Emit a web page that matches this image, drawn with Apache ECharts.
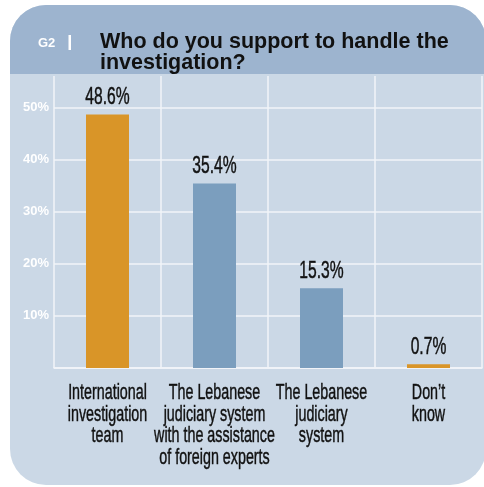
<!DOCTYPE html>
<html><head><meta charset="utf-8">
<script src="https://cdn.jsdelivr.net/npm/echarts@6/dist/echarts.min.js"></script>
<style>html,body{margin:0;padding:0;background:#fff}#c{width:484px;height:487px}</style>
</head><body><div id="c"></div>
<script>
var categories = [
  "International\ninvestigation\nteam",
  "The Lebanese\njudiciary system\nwith the assistance\nof foreign experts",
  "The Lebanese\njudiciary\nsystem",
  "Don\u2019t\nknow"
];
var values = [48.6, 35.4, 15.3, 0.7];
var barColors = ["#d99528", "#7b9ebe", "#7b9ebe", "#d99528"];
var titleText = "Who do you support to handle the\ninvestigation?";
var tagText = "G2";

var SANS = '"Liberation Sans", Arial, sans-serif';
var chart = echarts.init(document.getElementById('c'), null, {renderer: 'canvas'});
chart.setOption({
  animation: false,
  backgroundColor: '#ffffff',
  graphic: [
    {type: 'rect', z: -10, shape: {x: 10, y: 5, width: 476, height: 480, r: 36}, style: {fill: '#cbd8e6'}},
    {type: 'rect', z: -9, shape: {x: 10, y: 5, width: 476, height: 69, r: [36, 36, 0, 0]}, style: {fill: '#9db4cf'}},
    {type: 'text', z: 5, left: 38, top: 37, style: {text: tagText, fill: '#ffffff', font: 'bold 13px ' + SANS}},
    {type: 'rect', z: 5, shape: {x: 68.5, y: 35, width: 2.5, height: 15}, style: {fill: '#ffffff'}},
    {type: 'text', z: 5, left: 100, top: 31, style: {text: titleText, fill: '#111111', font: 'bold 21.5px ' + SANS, lineHeight: 21}}
  ],
  grid: {left: 54, right: 2, top: 76, bottom: 119, containLabel: false},
  xAxis: {
    type: 'category',
    data: categories,
    axisLine: {show: true, lineStyle: {color: '#f2f5f9', width: 1.5}},
    axisTick: {show: false, interval: 0},
    splitLine: {show: true, interval: 0, lineStyle: {color: '#f2f5f9', width: 1.5}},
    axisLabel: {show: false, interval: 0}
  },
  yAxis: {
    type: 'value',
    min: 0, max: 56, interval: 10,
    axisLine: {show: false},
    axisTick: {show: false},
    splitLine: {show: true, showMaxLine: false, lineStyle: {color: '#f2f5f9', width: 1.5}},
    axisLabel: {showMaxLabel: false, showMinLabel: false, margin: 5, color: '#ffffff', fontWeight: 'bold', fontSize: 13, fontFamily: SANS, formatter: function (v) { return v + '%'; }}
  },
  series: [{
    type: 'bar',
    barWidth: 43,
    data: values.map(function (v, i) { return {value: v, itemStyle: {color: barColors[i]}}; })
  }, {
    type: 'custom',
    clip: false,
    z: 10,
    data: values.map(function (v, i) { return [i, v]; }),
    renderItem: function (params, api) {
      var i = api.value(0), v = api.value(1);
      var top = api.coord([i, v]);
      var base = api.coord([i, 0]);
      return {type: 'group', children: [
        {type: 'text', x: top[0], y: top[1] - 5, scaleX: 0.68,
          style: {text: v.toFixed(1) + '%', align: 'center', verticalAlign: 'bottom', font: '23px ' + SANS, fill: '#111111', stroke: '#111111', lineWidth: 0.45}},
        {type: 'text', x: base[0], y: base[1] + 14, scaleX: 0.65,
          style: {text: categories[i], align: 'center', verticalAlign: 'top', font: '22px ' + SANS, lineHeight: 21.7, fill: '#111111', stroke: '#111111', lineWidth: 0.45}}
      ]};
    }
  }]
});
</script></body></html>
